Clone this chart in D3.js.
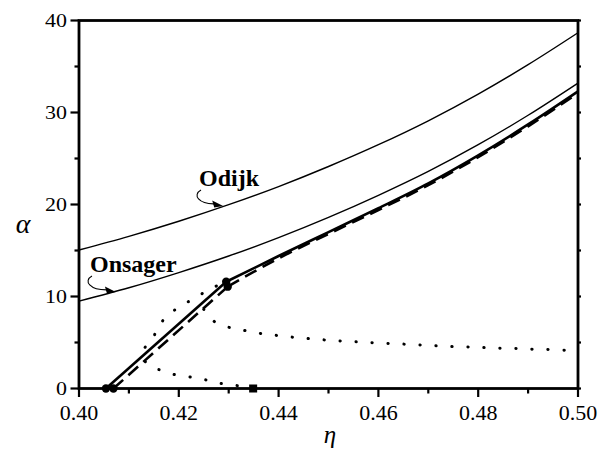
<!DOCTYPE html>
<html><head><meta charset="utf-8">
<script src="https://cdn.jsdelivr.net/npm/d3@7/dist/d3.min.js"></script>
<style>body{margin:0;background:#fff}svg{display:block}text{font-family:"Liberation Serif","DejaVu Serif","Times New Roman",serif}</style>
</head><body><svg id="c" width="602" height="450"></svg>
<script>
// ---- data ----
const etaMajor = [0.40, 0.42, 0.44, 0.46, 0.48, 0.50];
const etaMinor = [0.41, 0.43, 0.45, 0.47, 0.49];
const alphaMajor = [0, 10, 20, 30, 40];
const alphaMinor = [5, 15, 25, 35];

const curveEta = [0.40, 0.41, 0.42, 0.43, 0.44, 0.45, 0.46, 0.47, 0.48, 0.49, 0.50];
const odijkAlpha = [15.05, 16.54, 18.18, 19.98, 21.95, 24.13, 26.5, 29.1, 32.0, 35.2, 38.67];
const onsagerAlpha = [9.5, 10.95, 12.6, 14.4, 16.4, 18.6, 21.0, 23.6, 26.5, 29.7, 33.2];

const solidLowEta = [0.4054, 0.4295];
const solidLowAlpha = [0, 11.6];
const solidHighEta = [0.4295, 0.44, 0.45, 0.46, 0.47, 0.48, 0.49, 0.50];
const solidHighAlpha = [11.6, 14.4, 17.0, 19.6, 22.3, 25.35, 28.7, 32.3];

const dashLowEta = [0.4069, 0.4298];
const dashLowAlpha = [0, 11.07];
const dashHighEta = [0.4298, 0.44, 0.45, 0.46, 0.47, 0.48, 0.49, 0.50];
const dashHighAlpha = [11.07, 14.15, 16.8, 19.4, 22.1, 25.15, 28.5, 32.1];

const dotAEta = [0.4349, 0.4306, 0.4276, 0.4249, 0.4219, 0.4186, 0.4158, 0.4140, 0.4129, 0.4127, 0.4134, 0.4146, 0.4162, 0.4190, 0.4225, 0.4256, 0.4285];
const dotAAlpha = [0, 0.41, 0.63, 1.0, 1.28, 1.58, 2.1, 2.6, 3.2, 3.9, 4.6, 5.27, 6.98, 8.46, 9.62, 10.6, 11.4];

const dotBEta = [0.4250, 0.4262, 0.4276, 0.4309, 0.4343, 0.4373, 0.4406, 0.4438, 0.4470, 0.4502, 0.4533, 0.4565, 0.4597, 0.4629, 0.4661, 0.4693, 0.4723, 0.4755, 0.4788, 0.4819, 0.4851, 0.4884, 0.4916, 0.4948, 0.4980];
const dotBAlpha = [8.6, 7.8, 7.09, 6.54, 6.2, 5.9, 5.72, 5.52, 5.38, 5.24, 5.13, 5.05, 4.95, 4.87, 4.8, 4.7, 4.62, 4.54, 4.5, 4.43, 4.37, 4.33, 4.26, 4.22, 4.15];

const circleEta = [0.4054, 0.4069, 0.4295, 0.4298];
const circleAlpha = [0, 0, 11.6, 11.07];
const squareEta = [0.4349];
const squareAlpha = [0];

const labels = ["Odijk", "Onsager"];
const labelEta = [0.42405, 0.4022];
const labelAlpha = [22.0, 12.66];
const arrowTipEta = [0.4289, 0.4074];
const arrowTipAlpha = [19.85, 10.5];

// ---- drawing ----
const svg = d3.select("#c");
const L = 79, R = 578, T = 20.5, B = 388.5;
const x = d3.scaleLinear().domain([0.40, 0.50]).range([L, R]);
const y = d3.scaleLinear().domain([0, 40]).range([B, T]);

const zip = (a, b) => a.map((v, i) => [v, b[i]]);
const lineM = d3.line().x(d => x(d[0])).y(d => y(d[1])).curve(d3.curveMonotoneX);
const lineL = d3.line().x(d => x(d[0])).y(d => y(d[1]));
const lineC = d3.line().x(d => x(d[0])).y(d => y(d[1])).curve(d3.curveCatmullRom.alpha(0.5));

const g = svg.append("g");

// thin curves
g.append("path").attr("d", lineM(zip(curveEta, odijkAlpha))).attr("fill", "none").attr("stroke", "#000").attr("stroke-width", 1.4);
g.append("path").attr("d", lineM(zip(curveEta, onsagerAlpha))).attr("fill", "none").attr("stroke", "#000").attr("stroke-width", 1.4);

// dotted curves
[zip(dotAEta, dotAAlpha), zip(dotBEta, dotBAlpha)].forEach(pts => {
  g.append("path").attr("d", lineC(pts)).attr("fill", "none").attr("stroke", "#000")
    .attr("stroke-width", 3).attr("stroke-linecap", "round").attr("stroke-dasharray", "0.3 15.7");
});

// dashed curve
g.append("path").attr("d", lineL(zip(dashLowEta, dashLowAlpha))).attr("fill", "none").attr("stroke", "#000")
  .attr("stroke-width", 2.6).attr("stroke-dasharray", "13 7");
g.append("path").attr("d", lineM(zip(dashHighEta, dashHighAlpha))).attr("fill", "none").attr("stroke", "#000")
  .attr("stroke-width", 2.6).attr("stroke-dasharray", "13 7");

// solid thick curve
g.append("path").attr("d", lineL(zip(solidLowEta, solidLowAlpha))).attr("fill", "none").attr("stroke", "#000").attr("stroke-width", 2.6);
g.append("path").attr("d", lineM(zip(solidHighEta, solidHighAlpha))).attr("fill", "none").attr("stroke", "#000").attr("stroke-width", 2.6);

// markers
g.selectAll("circle.m").data(zip(circleEta, circleAlpha)).enter().append("circle")
  .attr("cx", d => x(d[0])).attr("cy", d => y(d[1])).attr("r", 4.2).attr("fill", "#000");
g.selectAll("rect.m").data(zip(squareEta, squareAlpha)).enter().append("rect")
  .attr("x", d => x(d[0]) - 4).attr("y", d => y(d[1]) - 4).attr("width", 8).attr("height", 8).attr("fill", "#000");

// annotations
labels.forEach((t, i) => {
  const lx = x(labelEta[i]), ly = y(labelAlpha[i]);
  g.append("text").attr("x", lx).attr("y", ly).text(t)
    .style("font-weight", "bold").style("font-size", "24px").attr("fill", "#000");
  const tx = x(arrowTipEta[i]), ty = y(arrowTipAlpha[i]);
  const sx = lx + 2, sy = ly + 4;
  g.append("path").attr("d", `M${sx},${sy} C${sx - 9},${sy + 5} ${sx - 2},${sy + 14} ${tx - 9},${ty - 2}`)
    .attr("fill", "none").attr("stroke", "#000").attr("stroke-width", 1.1);
  g.append("path").attr("d", `M${tx},${ty} L${tx - 11},${ty - 5.5} L${tx - 9},${ty + 1.5} Z`).attr("fill", "#000");
});

// axes
const ax = svg.append("g").attr("fill", "#000");
function tickLines(vals, f) { vals.forEach(v => { const [x1, y1, x2, y2] = f(v); ax.append("line").attr("x1", x1).attr("y1", y1).attr("x2", x2).attr("y2", y2).attr("stroke", "#000").attr("stroke-width", 2.2); }); }
tickLines(etaMajor, v => [x(v), B, x(v), B + 8.5]);
tickLines(etaMinor, v => [x(v), B, x(v), B + 5]);
tickLines(alphaMajor, v => [L, y(v), L - 8.5, y(v)]);
tickLines(alphaMinor, v => [L, y(v), L - 4.5, y(v)]);
tickLines(alphaMajor.concat(alphaMinor), v => [R, y(v), R + 3, y(v)]);

ax.append("rect").attr("x", L).attr("y", T).attr("width", R - L).attr("height", B - T)
  .attr("fill", "none").attr("stroke", "#000").attr("stroke-width", 2.8);

etaMajor.forEach(v => {
  ax.append("text").attr("x", x(v)).attr("y", B + 31).attr("text-anchor", "middle")
    .style("font-size", "22px").text(d3.format(".2f")(v));
});
alphaMajor.forEach(v => {
  ax.append("text").attr("transform", `translate(${L - 12},${y(v) + 6.5}) scale(1.22,1)`)
    .attr("text-anchor", "end").style("font-size", "18px").text(v);
});

ax.append("text").attr("x", 23).attr("y", 233).attr("text-anchor", "middle")
  .style("font-style", "italic").style("font-size", "28px").text("α");
ax.append("text").attr("x", 330).attr("y", 443).attr("text-anchor", "middle")
  .style("font-style", "italic").style("font-size", "25px").text("η");
</script></body></html>
